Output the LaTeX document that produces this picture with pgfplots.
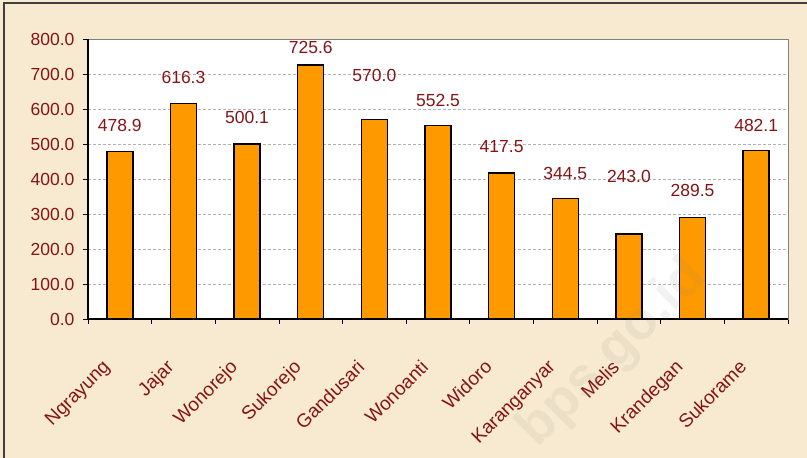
\documentclass[border=0pt]{standalone}
\usepackage{pgfplots}
\pgfplotsset{compat=1.18}
\usepackage{pgfplotstable}
\usepackage{fontspec}
\setmainfont{Liberation Sans}
\definecolor{lab}{RGB}{135,20,20}
\definecolor{bar}{RGB}{255,153,0}
\definecolor{bg}{RGB}{248,234,208}
\pgfplotstableread{
x v ly name
0 478.9 554 Ngrayung
1 616.3 691 Jajar
2 500.1 577 Wonorejo
3 725.6 777 Sukorejo
4 570.0 697 Gandusari
5 552.5 623 Wonoanti
6 417.5 494 Widoro
7 344.5 417 Karanganyar
8 243.0 406 Melis
9 289.5 366 Krandegan
10 482.1 554 Sukorame
}\data
\begin{document}
\begin{tikzpicture}[x=1pt,y=1pt]
\useasboundingbox (-88,-139) rectangle (719,319);
\fill[bg] (-88,-139) rectangle (719,319);
\draw[black!75, line width=1.5pt] (-84,-139) -- (-84,316) -- (719,316);
\begin{axis}[
  at={(0,0)}, anchor=south west,
  scale only axis, width=700pt, height=280pt,
  xmin=-0.5, xmax=10.5, ymin=0, ymax=800,
  axis background/.style={fill=white},
  axis line style={draw=gray, line width=1pt},
  ytick={0,100,...,800},
  ymajorgrids, grid style={densely dashed, gray!60, line width=0.6pt},
  xtick={0,...,10}, major x tick style={draw=none},
  xticklabels={Ngrayung,Jajar,Wonorejo,Sukorejo,Gandusari,Wonoanti,Widoro,Karanganyar,Melis,Krandegan,Sukorame},
  minor xtick={-0.5,0.5,...,10.5},
  minor x tick style={black, line width=0.8pt},
  major y tick style={black, line width=0.8pt},
  tick align=outside, major tick length=5pt, minor tick length=5pt,
  xtick pos=bottom, ytick pos=left,
  /pgf/number format/assume math mode=true,
  yticklabel={\pgfmathprintnumber[fixed,fixed zerofill,precision=1]{\tick}},
  yticklabel style={font=\fontsize{17.5}{20}\selectfont, text=lab, xshift=-5pt},
  xticklabel style={font=\fontsize{19}{22}\selectfont, text=lab, rotate=45, anchor=north east, xshift=-34pt, yshift=-8pt},
  clip=false,
]
\addplot[ybar, bar width=26pt, fill=bar, draw=black, line width=1.4pt] table[x=x, y=v] {\data};
\addplot[only marks, mark=none, nodes near coords={\pgfmathprintnumber[fixed,fixed zerofill,precision=1]{\pgfplotspointmeta}},
  point meta=explicit,
  nodes near coords style={anchor=center, text=lab, font=\fontsize{17.5}{20}\selectfont, /pgf/number format/assume math mode=true}]
  table[x=x, y=ly, meta=v] {\data};
\draw[black, line width=1.4pt] (rel axis cs:0,1) -- (rel axis cs:0,0) -- (rel axis cs:1,0);
\node[rotate=45, text=gray, opacity=0.1, font=\bfseries\fontsize{54}{62}\selectfont] at (axis cs:7.75,-100) {bps.go.id};
\end{axis}
\end{tikzpicture}
\end{document}
